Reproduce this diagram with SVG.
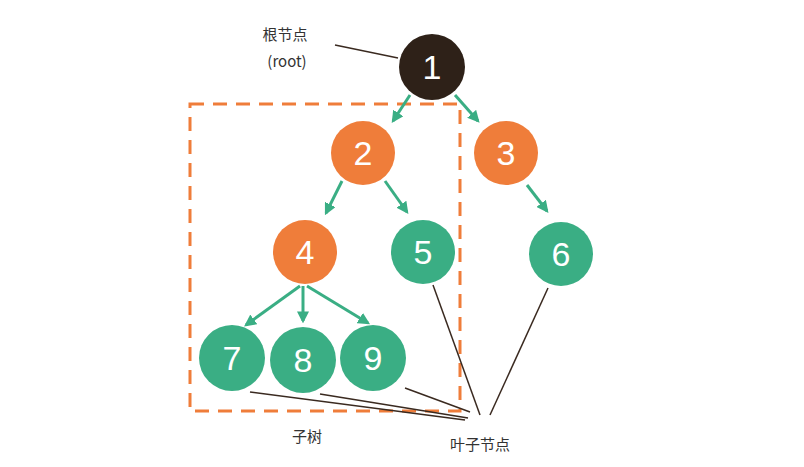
<svg xmlns="http://www.w3.org/2000/svg" width="804" height="467" viewBox="0 0 804 467">
<style>
.n{font-family:"Liberation Sans","Noto Sans CJK SC",sans-serif;font-size:34px;fill:#fff;text-anchor:middle;dominant-baseline:central}
.t{font-family:"Noto Sans CJK SC",sans-serif;font-size:15px;fill:#333;text-anchor:middle}
.o{fill:#ef7d3a}.g{fill:#3aae84}
.a{stroke:#3aae84;stroke-width:3;fill:none;marker-end:url(#ah)}
.l{stroke:#3a2a20;stroke-width:1.5;fill:none}
</style>
<defs><marker id="ah" viewBox="0 0 10 10" refX="8" refY="5" markerWidth="4" markerHeight="4" orient="auto"><path d="M0,0L10,5L0,10z" fill="#3aae84"/></marker></defs>
<rect width="804" height="467" fill="#fff"/>
<rect x="190" y="104" width="270" height="307" fill="none" stroke="#ef7d3a" stroke-width="3" stroke-dasharray="14,9"/>
<g id="connectors">
<path class="a" d="M410,95L393,121"/><path class="a" d="M455,95L478,121"/>
<path class="a" d="M342,181L326,213"/><path class="a" d="M385,181L407,212"/>
<path class="a" d="M527,185L547,211"/>
<path class="a" d="M300,286L246,325"/><path class="a" d="M303,286L303,321"/><path class="a" d="M307,286L368,323"/>
<path class="l" d="M335,45L398,58"/>
<path class="l" d="M433,285L480,415"/><path class="l" d="M548,288L490,415"/>
<path class="l" d="M405,388L470,412"/><path class="l" d="M320,394L468,418"/><path class="l" d="M250,392L465,420"/>
</g>
<g id="n1"><circle cx="432" cy="67" r="33" fill="#2e2118"/><text class="n" x="432" y="67">1</text></g>
<g id="n2"><circle class="o" cx="363" cy="153" r="32"/><text class="n" x="363" y="153">2</text></g>
<g id="n3"><circle class="o" cx="506" cy="153" r="32"/><text class="n" x="506" y="153">3</text></g>
<g id="n4"><circle class="o" cx="305" cy="252" r="32"/><text class="n" x="305" y="252">4</text></g>
<g id="n5"><circle class="g" cx="423" cy="252" r="32"/><text class="n" x="423" y="252">5</text></g>
<g id="n6"><circle class="g" cx="561" cy="254" r="32"/><text class="n" x="561" y="254">6</text></g>
<g id="n7"><circle class="g" cx="232" cy="358" r="33"/><text class="n" x="232" y="358">7</text></g>
<g id="n8"><circle class="g" cx="303" cy="360" r="33"/><text class="n" x="303" y="360">8</text></g>
<g id="n9"><circle class="g" cx="373" cy="358" r="33"/><text class="n" x="373" y="358">9</text></g>
<g id="labels">
<text class="t" x="285" y="40">根节点</text>
<text class="t" x="287" y="67">(root)</text>
<text class="t" x="307" y="442">子树</text>
<text class="t" x="480" y="450">叶子节点</text>
</g>
</svg>
